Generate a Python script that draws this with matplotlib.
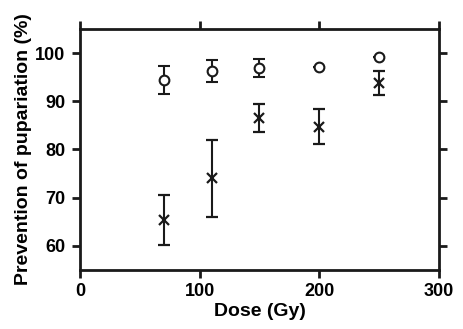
import matplotlib
matplotlib.use("Agg")
import matplotlib.pyplot as plt

plt.rcParams['font.family'] = ['Liberation Sans', 'DejaVu Sans']
plt.rcParams['font.weight'] = 'bold'

dose = [70, 110, 150, 200, 250]
circle_vals = [94.4, 96.3, 96.9, 97.2, 99.1]
circle_err = [2.9, 2.2, 1.8, 0.0, 0.0]
cross_vals = [65.4, 74.0, 86.5, 84.7, 93.8]
cross_err = [5.2, 8.0, 2.9, 3.6, 2.5]

xticks = [0, 100, 200, 300]
yticks = [60, 70, 80, 90, 100]

fig = plt.figure(figsize=(4.64, 3.29), dpi=100)
ax = fig.add_axes([0.1724, 0.1793, 0.7736, 0.7326])

ax.errorbar(dose, circle_vals, yerr=circle_err, fmt='o', mfc='white', mec='#1a1a1a',
            ms=7, mew=1.5, ecolor='#1a1a1a', elinewidth=1.5, capsize=4.5, capthick=1.5)
ax.errorbar(dose, cross_vals, yerr=cross_err, fmt='x', color='#1a1a1a',
            ms=7, mew=1.6, ecolor='#1a1a1a', elinewidth=1.5, capsize=4.5, capthick=1.5)

ax.set_xlim(0, 300)
ax.set_ylim(55, 105)
ax.set_xticks(xticks)
ax.set_yticks(yticks)
for s in ax.spines.values():
    s.set_linewidth(2)
    s.set_color('#1a1a1a')
ax.tick_params(direction='out', length=5.5, width=2, color='#1a1a1a',
               top=True, right=True, labeltop=False, labelright=False,
               labelsize=13)
ax.tick_params(axis='x', pad=4)
ax.tick_params(axis='y', pad=5)
for lbl in ax.get_xticklabels() + ax.get_yticklabels():
    lbl.set_fontweight('bold')
ax.set_xlabel('Dose (Gy)', fontsize=14, fontweight='bold', labelpad=2)
ax.set_ylabel('Prevention of pupariation (%)', fontsize=14, fontweight='bold', labelpad=2)

fig.savefig('out.png', dpi=100)
